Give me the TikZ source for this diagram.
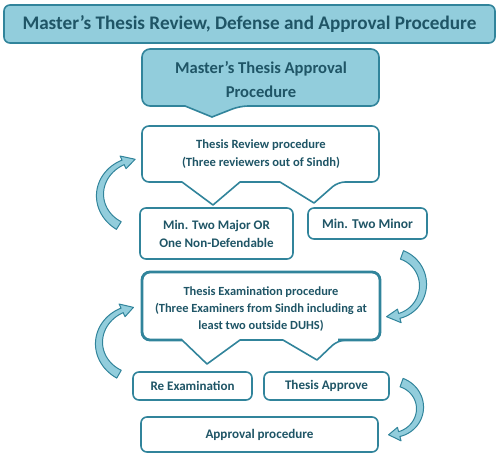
\documentclass[tikz,border=0pt]{standalone}
\usepackage{fontspec}
\setmainfont{Carlito}
\definecolor{bord}{HTML}{31849B}
\definecolor{lite}{HTML}{92CDDC}
\definecolor{txt}{HTML}{1F5566}
\newlength\fitw
\newlength\fitwb
\newcommand\fitsize[3]{%
  \settowidth\fitw{\bfseries\fontsize{10}{12}\selectfont #3}%
  \pgfmathsetmacro#1{10*#2/\fitw}}
\newcommand\fitpair[5]{%
  \settowidth\fitw{\bfseries\fontsize{10}{12}\selectfont #3}%
  \settowidth\fitwb{\bfseries\fontsize{10}{12}\selectfont #5}%
  \pgfmathsetmacro#1{5*#2/\fitw+5*#4/\fitwb}}
\AtBeginDocument{%
\fitsize\sztitle{454}{Master’s Thesis Review, Defense and Approval Procedure}%
\fitpair\szcall{173}{Master’s Thesis Approval}{70}{Procedure}%
\fitpair\szrev{136}{Thesis Review procedure}{150}{(Three reviewers out of Sindh)}%
\fitpair\szmaj{107.6}{Min. Two Major OR}{113.6}{One Non-Defendable}%
\fitsize\szmin{91}{Min. Two Minor}%
\fitpair\szexam{161.5}{Thesis Examination procedure}{203}{(Three Examiners from Sindh including at}%
\fitsize\szre{84}{Re Examination}%
\fitsize\szapp{83}{Thesis Approve}%
\fitsize\szfin{108}{Approval procedure}}
\newcommand\carrow[7]{%
 \filldraw[arrowsty] plot[domain=#5:#6,samples=30] ({#1+(#3+4.5-2*(\x-#5)/(#6-#5))*cos(\x)},{#2+(#4+4.5-2*(\x-#5)/(#6-#5))*sin(\x)})
 -- ({#1+(#3+7)*cos(#6)},{#2+(#4+7)*sin(#6)})
 -- ({#1+#3*cos(#7)},{#2+#4*sin(#7)})
 -- ({#1+(#3-7)*cos(#6)},{#2+(#4-7)*sin(#6)})
 -- plot[domain=#6:#5,samples=30] ({#1+(#3-4.5+2*(\x-#5)/(#6-#5))*cos(\x)},{#2+(#4-4.5+2*(\x-#5)/(#6-#5))*sin(\x)})
 -- cycle;}
\begin{document}
\begin{tikzpicture}[x=1pt,y=-1pt,
  boxsty/.style={draw=bord,line width=1.6pt,fill=white,line join=round},
  plainbox/.style={draw=bord,line width=1.6pt,fill=white,rounded corners=6pt,inner sep=0pt},
  lbl/.style={text=txt,align=center,inner sep=0pt},
  arrowsty/.style={draw=bord,fill=lite,line width=1pt,line join=round}]
\useasboundingbox (0,0) rectangle (500,457);
% title
\node[draw=bord,line width=1.6pt,fill=lite,rounded corners=6pt,minimum width=491pt,minimum height=38pt,
  text=txt,font=\bfseries\fontsize{\sztitle}{21}\selectfont] (title) at (249.5,24) {Master’s Thesis Review, Defense and Approval Procedure};
% callout
\draw[draw=bord,line width=1.6pt,fill=lite] (260,49) [rounded corners=8pt] -- (379,49) -- (379,106) -- (240,106) [sharp corners] -- (212,117) -- (185,106) [rounded corners=8pt] -- (142,106) -- (142,49) -- cycle;
\node[lbl,font=\bfseries\fontsize{\szcall}{24}\selectfont] (callout) at (261,80) {Master’s Thesis Approval\\Procedure};
% review box
\draw[boxsty] (260,126) [rounded corners=7pt] -- (379,126) -- (379,182) -- (338,182) [sharp corners] -- (314,203) -- (280,182) -- (240,182) -- (213,205) -- (182,182) [rounded corners=7pt] -- (142,182) -- (142,126) -- cycle;
\node[lbl,font=\bfseries\fontsize{\szrev}{18}\selectfont] (review) at (261,154) {Thesis Review procedure\\(Three reviewers out of Sindh)};
% outcome boxes
\node[plainbox,minimum width=153pt,minimum height=51pt] (major) at (216.5,233.5) {};
\node[lbl,font=\bfseries\fontsize{\szmaj}{18}\selectfont] (majort) at (major) {Min. Two Major OR\\One Non-Defendable};
\node[plainbox,minimum width=119pt,minimum height=31pt] (minor) at (367.5,223.5) {};
\node[lbl,font=\bfseries\fontsize{\szmin}{18}\selectfont] (minort) at (minor) {Min. Two Minor};
% exam box
\draw[boxsty] (261,272) [rounded corners=8pt] -- (380,272) -- (380,340) -- (338,340) [sharp corners] -- (317,360) -- (283,340) -- (240,340) -- (207,364) -- (182,340) [rounded corners=8pt] -- (142,340) -- (142,272) -- cycle;
\draw[draw=bord,line width=2.8pt,rounded corners=8pt] (182,340) -- (142,340) -- (142,272) -- (380,272) -- (380,340) -- (338,340);
\draw[draw=bord,line width=2.8pt] (240,340) -- (283,340);
\node[lbl,font=\bfseries\fontsize{\szexam}{17}\selectfont] (exam) at (261,309) {Thesis Examination procedure\\(Three Examiners from Sindh including at\\least two outside DUHS)};
\node[plainbox,minimum width=119pt,minimum height=28pt] (reexam) at (192.5,386) {};
\node[lbl,font=\bfseries\fontsize{\szre}{18}\selectfont] (reexamt) at (reexam) {Re Examination};
\node[plainbox,minimum width=125pt,minimum height=28pt] (approve) at (326.5,386) {};
\node[lbl,font=\bfseries\fontsize{\szapp}{18}\selectfont] (approvet) at (approve) {Thesis Approve};
\node[plainbox,minimum width=237pt,minimum height=35pt] (approval) at (259.5,434.5) {};
\node[lbl,font=\bfseries\fontsize{\szfin}{18}\selectfont] (approvalt) at (approval) {Approval procedure};
% curved arrows
\carrow{140}{195}{40}{36}{122}{245}{263}
\carrow{391}{285}{32}{32}{-70}{75}{98}
\carrow{139}{343}{40}{36}{120}{245}{262}
\carrow{392}{408}{28}{27}{-70}{75}{97}
\end{tikzpicture}
\end{document}
